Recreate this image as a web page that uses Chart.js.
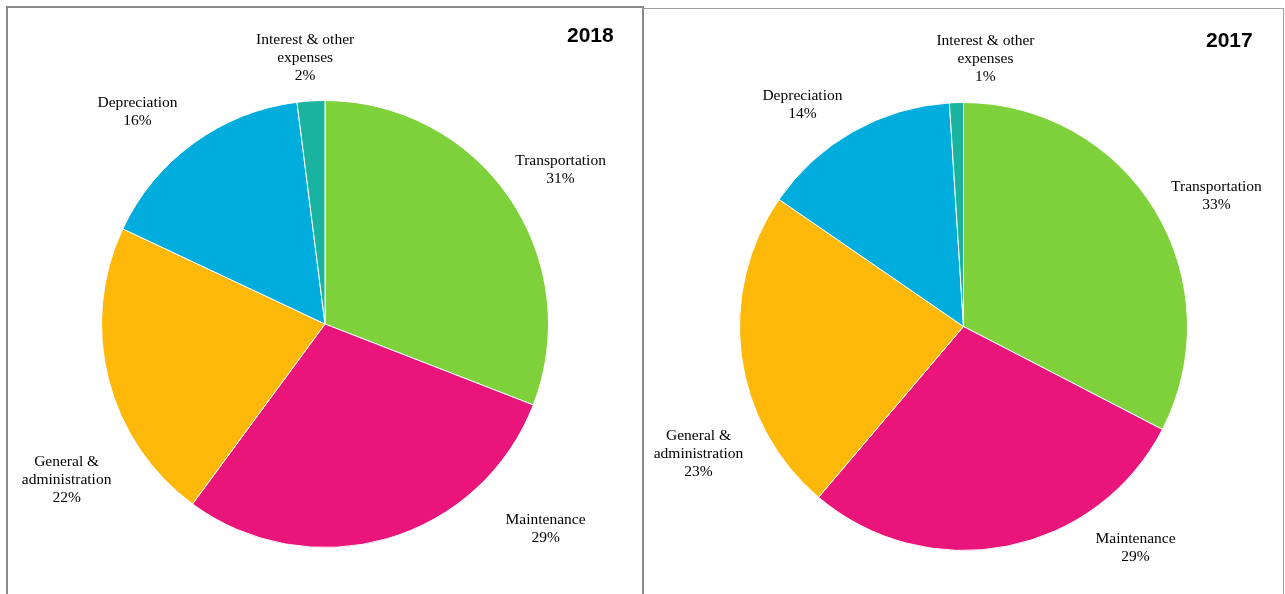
<!DOCTYPE html>
<html>
<head>
<meta charset="utf-8">
<script src="https://cdn.jsdelivr.net/npm/chart.js@4"></script>
<style>
  html, body { margin: 0; padding: 0; background: #fff; width: 1285px; height: 594px; overflow: hidden; }
  .panel { position: absolute; box-sizing: border-box; background: transparent; }
  #p1 { left: 6px; top: 6px; width: 638px; height: 620px; border: 2px solid #8a8a8a; }
  #p2 { left: 643px; top: 8px; width: 641px; height: 620px; border: 1px solid #a0a0a0; border-left: none; }
  canvas { position: absolute; top: 0; }
  .yr { position: absolute; font-family: "Liberation Sans", Arial, sans-serif; font-weight: bold; font-size: 21px; color: #000; }
</style>
</head>
<body>
<div class="panel" id="p1"></div>
<div class="panel" id="p2"></div>
<canvas id="c1" width="643" height="594" style="left:0px"></canvas>
<canvas id="c2" width="641" height="594" style="left:644px"></canvas>
<div class="yr" style="left:567px; top:23px;">2018</div>
<div class="yr" style="left:1206px; top:28px;">2017</div>
<script>
const categories = ['Transportation', 'Maintenance', 'General & administration', 'Depreciation', 'Interest & other expenses'];
const labelLines = [['Transportation'], ['Maintenance'], ['General &', 'administration'], ['Depreciation'], ['Interest & other', 'expenses']];
const values2018 = [30.9, 29.2, 21.9, 16.0, 2.0];
const values2017 = [32.6, 28.6, 23.4, 14.4, 1.0];
const colors = ['#7FD13B', '#EA157A', '#FEB80A', '#00ADDC', '#1AB39F'];

const labelPlugin = {
  id: 'outLabels',
  afterDraw(chart, args, opts) {
    const meta = chart.getDatasetMeta(0);
    const arc = meta.data[0];
    const cx = arc.x, cy = arc.y, r = arc.outerRadius;
    const vals = chart.data.datasets[0].data;
    const total = vals.reduce((a, b) => a + b, 0);
    const ctx = chart.ctx;
    ctx.save();
    ctx.font = '15.5px "Liberation Serif", "Times New Roman", serif';
    ctx.fillStyle = '#000';
    ctx.textAlign = 'center';
    ctx.textBaseline = 'middle';
    const lh = 18;
    vals.forEach((v, i) => {
      const lines = labelLines[i].concat([Math.round(v / total * 100 + 1e-9) + '%']);
      const x = cx + opts.offsets[i][0] * r;
      const y = cy + opts.offsets[i][1] * r;
      const y0 = y - (lines.length - 1) * lh / 2;
      lines.forEach((t, k) => ctx.fillText(t, x, y0 + k * lh));
    });
    ctx.restore();
  }
};

function makeChart(id, values, padding, offsets) {
  return new Chart(document.getElementById(id), {
    type: 'pie',
    data: {
      labels: categories,
      datasets: [{ data: values, backgroundColor: colors, borderColor: '#ffffff', borderWidth: 1 }]
    },
    options: {
      responsive: false,
      animation: false,
      layout: { padding: padding },
      plugins: {
        legend: { display: false },
        tooltip: { enabled: false },
        outLabels: { offsets: offsets }
      }
    },
    plugins: [labelPlugin]
  });
}

makeChart('c1', values2018, { left: 101, right: 94, top: 100, bottom: 46 },
  [[1.054, -0.688], [0.987, 0.915], [-1.156, 0.696], [-0.839, -0.951], [-0.089, -1.192]]);
makeChart('c2', values2017, { left: 95, right: 97, top: 102, bottom: 43 },
  [[1.129, -0.585], [0.768, 0.987], [-1.183, 0.567], [-0.719, -0.987], [0.098, -1.196]]);
</script>
</body>
</html>
